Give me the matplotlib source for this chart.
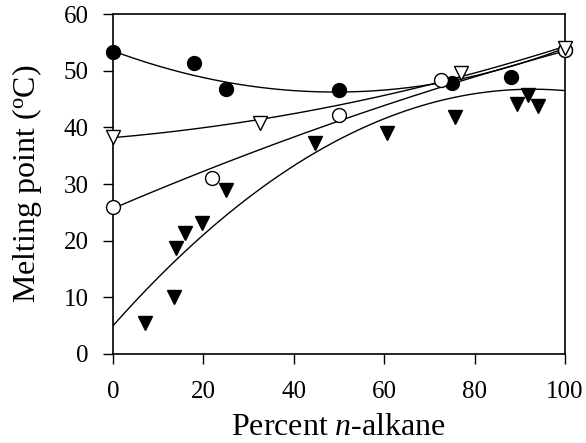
import numpy as np
import matplotlib
matplotlib.use('Agg')
import matplotlib.pyplot as plt

plt.rcParams['font.family'] = 'Liberation Serif'
plt.rcParams['mathtext.fontset'] = 'custom'
plt.rcParams['mathtext.rm'] = 'Liberation Serif'
plt.rcParams['mathtext.it'] = 'Liberation Serif:italic'

# ── data ─────────────────────────────────────────────────
fc_x = [0, 18, 25, 50, 75, 88, 100]
fc_y = [53.3, 51.3, 46.8, 46.6, 47.8, 48.9, 53.6]

oc_x = [0, 22, 50, 72.5, 100]
oc_y = [25.9, 31.0, 42.2, 48.3, 53.6]

ot_x = [0, 32.5, 77, 100]
ot_y = [38.3, 40.7, 49.6, 54.0]

ft_x = [7, 13.5, 14, 16, 19.6, 25, 44.7, 60.6, 75.7, 89.4, 91.8, 94]
ft_y = [5.5, 10.0, 18.7, 21.3, 23.1, 28.9, 37.2, 39.0, 41.8, 44.1, 45.7, 43.8]

# fitted curves, points
curve_x = [0, 36.9, 100]
fc_curve = [53.5, 46.7, 54.0]
oc_curve = [25.7, 37.4, 53.5]
ot_curve = [38.2, 42.0, 54.3]
ft_curve = [5.0, 31.6, 46.5]

fig = plt.figure(figsize=(5.86, 4.43), dpi=100)
ax = fig.add_axes([0.193, 0.201, 0.771, 0.767])

xs = np.linspace(0, 100, 200)
for cy in [fc_curve, oc_curve, ot_curve, ft_curve]:
    coef = np.polyfit(curve_x, cy, 2)
    ax.plot(xs, np.polyval(coef, xs), color='black', lw=1.0, zorder=2)

series = [
    (fc_x, fc_y, dict(marker='o', mfc='black')),
    (oc_x, oc_y, dict(marker='o', mfc='white')),
    (ot_x, ot_y, dict(marker='v', mfc='white')),
    (ft_x, ft_y, dict(marker='v', mfc='black')),
]
for x, y, st in series:
    ax.plot(x, y, ls='none', ms=10, mew=1.0, color='black',
            clip_on=False, zorder=3, **st)

ax.set_xlim(0, 100)
ax.set_ylim(0, 60)
ax.set_xticks(range(0, 101, 20))
ax.set_yticks(range(0, 61, 10))
ax.tick_params(direction='out', length=7.5, width=1, labelsize=18)
ax.tick_params(axis='y', pad=10)
ax.tick_params(axis='x', pad=12)
for s in ax.spines.values():
    s.set_linewidth(1.2)

ax.set_xlabel('Percent $\\mathit{n}$-alkane', fontsize=23, labelpad=7)
ax.set_ylabel('Melting point ($^{\\mathrm{o}}$C)', fontsize=23, labelpad=14)

fig.savefig('out.png', dpi=100, facecolor='white')
